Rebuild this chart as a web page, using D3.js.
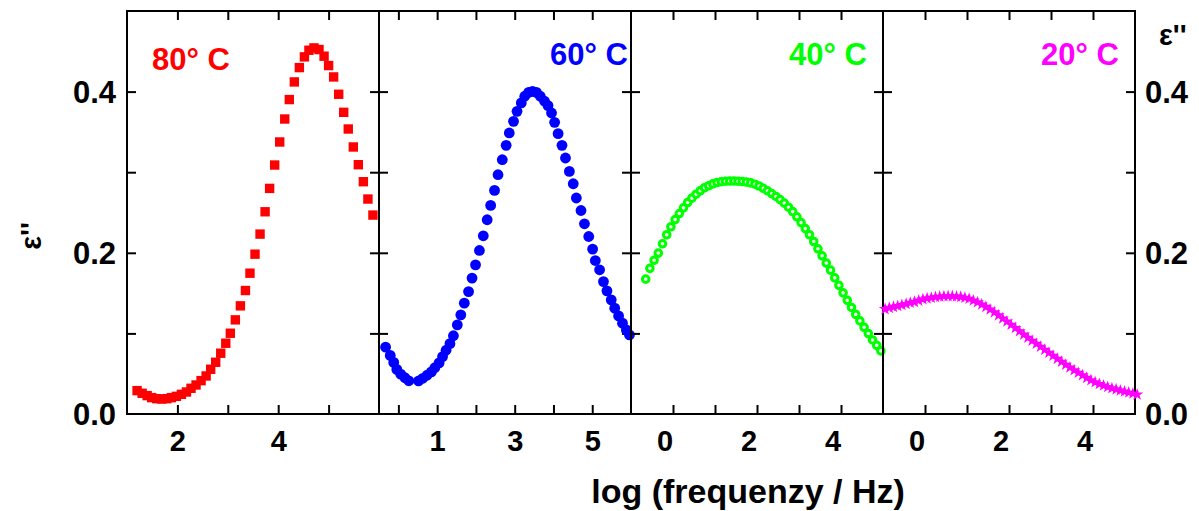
<!DOCTYPE html>
<html>
<head>
<meta charset="utf-8">
<script src="https://cdn.jsdelivr.net/npm/d3@7"></script>
<style>
  html, body { margin: 0; padding: 0; background: #fff; }
  svg { display: block; }
</style>
</head>
<body>
<svg id="chart" width="1199" height="511"></svg>
<script>
// ---------------- data ----------------
const logf80 = [1.20,1.30,1.40,1.49,1.59,1.69,1.79,1.88,1.98,2.08,2.18,2.27,2.37,2.47,2.57,2.66,2.76,2.86,2.96,3.05,3.15,3.25,3.35,3.44,3.54,3.64,3.74,3.83,3.93,4.03,4.13,4.22,4.32,4.42,4.52,4.61,4.71,4.81,4.91,5.00,5.10,5.20,5.30,5.39,5.49,5.59,5.69,5.78,5.88];
const eps80 = [0.0290,0.0257,0.0228,0.0203,0.0190,0.0186,0.0190,0.0203,0.0219,0.0244,0.0273,0.0319,0.0360,0.0414,0.0472,0.0555,0.0642,0.0754,0.0878,0.1002,0.1168,0.1342,0.1532,0.1747,0.1983,0.2232,0.2509,0.2799,0.3089,0.3375,0.3660,0.3901,0.4120,0.4298,0.4431,0.4513,0.4542,0.4522,0.4439,0.4323,0.4182,0.3967,0.3743,0.3536,0.3313,0.3093,0.2882,0.2667,0.2468];

const logf60 = [-0.33,-0.21,-0.12,-0.04,0.06,0.17,0.27,0.52,0.63,0.74,0.85,0.94,1.05,1.14,1.23,1.33,1.42,1.52,1.61,1.70,1.81,1.90,1.99,2.09,2.19,2.29,2.38,2.48,2.57,2.68,2.78,2.86,2.97,3.06,3.17,3.26,3.36,3.46,3.56,3.66,3.77,3.86,3.95,4.03,4.12,4.22,4.31,4.41,4.51,4.59,4.71,4.80,4.91,5.01,5.08,5.19,5.29,5.38,5.49,5.58,5.68,5.78,5.88,5.96];
const eps60 = [0.0829,0.0727,0.0640,0.0553,0.0494,0.0450,0.0412,0.0410,0.0443,0.0481,0.0522,0.0574,0.0634,0.0712,0.0791,0.0873,0.0971,0.1106,0.1230,0.1375,0.1519,0.1686,0.1851,0.2029,0.2211,0.2410,0.2588,0.2774,0.2969,0.3155,0.3333,0.3487,0.3631,0.3755,0.3860,0.3942,0.3991,0.4004,0.3991,0.3942,0.3880,0.3826,0.3735,0.3619,0.3478,0.3333,0.3176,0.3010,0.2857,0.2680,0.2525,0.2360,0.2202,0.2046,0.1904,0.1789,0.1643,0.1528,0.1416,0.1313,0.1217,0.1127,0.1043,0.0981];

const logf40 = [-0.65,-0.55,-0.45,-0.35,-0.25,-0.15,-0.05,0.05,0.15,0.25,0.35,0.45,0.55,0.65,0.75,0.85,0.95,1.05,1.15,1.25,1.35,1.45,1.55,1.65,1.75,1.85,1.95,2.05,2.15,2.25,2.35,2.45,2.55,2.65,2.75,2.85,2.95,3.05,3.15,3.25,3.35,3.45,3.55,3.65,3.75,3.85,3.95,4.05,4.15,4.25,4.35,4.45,4.55,4.65,4.75,4.85,4.95];
const eps40 = [0.1673,0.1807,0.1907,0.1996,0.2112,0.2224,0.2323,0.2412,0.2487,0.2558,0.2624,0.2678,0.2727,0.2770,0.2807,0.2832,0.2855,0.2872,0.2882,0.2888,0.2891,0.2891,0.2888,0.2884,0.2878,0.2867,0.2851,0.2829,0.2800,0.2769,0.2735,0.2699,0.2660,0.2616,0.2566,0.2511,0.2447,0.2375,0.2300,0.2224,0.2140,0.2050,0.1963,0.1872,0.1785,0.1689,0.1596,0.1503,0.1410,0.1322,0.1236,0.1155,0.1076,0.0998,0.0919,0.0851,0.0783];

const logf20 = [-0.95,-0.85,-0.75,-0.65,-0.55,-0.45,-0.35,-0.25,-0.15,-0.05,0.05,0.15,0.25,0.35,0.45,0.55,0.65,0.75,0.85,0.95,1.05,1.15,1.25,1.35,1.45,1.55,1.65,1.75,1.85,1.95,2.05,2.15,2.25,2.35,2.45,2.55,2.65,2.75,2.85,2.95,3.05,3.15,3.25,3.35,3.45,3.55,3.65,3.75,3.85,3.95,4.05,4.15,4.25,4.35,4.45,4.55,4.65,4.75,4.85,4.95,5.05];
const eps20 = [0.1301,0.1317,0.1329,0.1339,0.1352,0.1366,0.1380,0.1391,0.1407,0.1424,0.1435,0.1443,0.1451,0.1456,0.1461,0.1462,0.1462,0.1458,0.1453,0.1442,0.1429,0.1409,0.1386,0.1359,0.1329,0.1296,0.1261,0.1224,0.1186,0.1148,0.1108,0.1068,0.1027,0.0985,0.0947,0.0909,0.0872,0.0834,0.0796,0.0759,0.0722,0.0684,0.0648,0.0612,0.0576,0.0543,0.0512,0.0480,0.0448,0.0420,0.0395,0.0373,0.0353,0.0335,0.0320,0.0306,0.0292,0.0280,0.0267,0.0255,0.0242];

const panelLabels = ["80° C", "60° C", "40° C", "20° C"];
const panelColors = ["#ff0000", "#0000ff", "#00ff00", "#ff00ff"];
const xDomains = [[1, 6], [-0.5, 6], [-1, 5], [-1, 5]];
const xTicks = [[2, 3, 4, 5], [0, 1, 2, 3, 4, 5], [0, 1, 2, 3, 4], [0, 1, 2, 3, 4]];
const xTickLabels = [[2, 4], [1, 3, 5], [0, 2, 4], [0, 2, 4]];
const yTicks = [0.1, 0.2, 0.3, 0.4];
const yTickLabels = [0.0, 0.2, 0.4];
const xTitle = "log (frequenzy / Hz)";
const yTitle = "ε''";

// ---------------- layout ----------------
(function () {
const FONT = "'Liberation Sans', Arial, Helvetica, sans-serif";
const svg = d3.select("#chart");
svg.append("rect").attr("width", 1199).attr("height", 511).attr("fill", "#fff");

const topY = 11, bottomY = 414;
const panelLeft = [127, 379, 631, 883];
const panelW = 252;
const labelShift = [0, 0, -8.5, -8.5];

const y = d3.scaleLinear().domain([0, 0.5]).range([bottomY, topY]);

const series = [
  { xs: logf80, ys: eps80 },
  { xs: logf60, ys: eps60 },
  { xs: logf40, ys: eps40 },
  { xs: logf20, ys: eps20 }
];

function styleAxis(g) {
  g.select(".domain").remove();
  g.selectAll(".tick line").attr("stroke", "#000").attr("stroke-width", 2);
}

for (let p = 0; p < 4; p++) {
  const x0 = panelLeft[p], x1 = x0 + panelW;
  const x = d3.scaleLinear().domain(xDomains[p]).range([x0, x1]);
  const g = svg.append("g");

  const gb = g.append("g").attr("transform", `translate(0,${bottomY})`)
    .call(d3.axisBottom(x).tickValues(xTicks[p]).tickSize(-9).tickSizeOuter(0)
      .tickFormat(d => xTickLabels[p].includes(d) ? String(d) : ""));
  styleAxis(gb);
  gb.selectAll(".tick text").attr("y", 37).attr("dy", 0).attr("dx", labelShift[p])
    .attr("fill", "#000").style("font-family", FONT).style("font-weight", "bold").style("font-size", "29px");

  const gt = g.append("g").attr("transform", `translate(0,${topY})`)
    .call(d3.axisTop(x).tickValues(xTicks[p]).tickSize(-9).tickSizeOuter(0).tickFormat(""));
  styleAxis(gt);

  const gl = g.append("g").attr("transform", `translate(${x0},0)`)
    .call(d3.axisLeft(y).tickValues(p === 0 ? [0, ...yTicks] : yTicks).tickSize(-9).tickSizeOuter(0)
      .tickFormat(d => (p === 0 && yTickLabels.includes(d)) ? d3.format(".1f")(d) : ""));
  styleAxis(gl);
  gl.selectAll(".tick text").attr("x", -11).attr("dy", "0.35em")
    .attr("fill", "#000").style("font-family", FONT).style("font-weight", "bold").style("font-size", "31px");
  if (p === 0) gl.selectAll(".tick").filter(d => d === 0).select("line").remove();

  const gr = g.append("g").attr("transform", `translate(${x1},0)`)
    .call(d3.axisRight(y).tickValues(p === 3 ? [0, ...yTicks] : yTicks).tickSize(-9).tickSizeOuter(0)
      .tickFormat(d => (p === 3 && yTickLabels.includes(d)) ? d3.format(".1f")(d) : ""));
  styleAxis(gr);
  gr.selectAll(".tick text").attr("x", 10).attr("dy", "0.35em")
    .attr("fill", "#000").style("font-family", FONT).style("font-weight", "bold").style("font-size", "31px");
  if (p === 3) gr.selectAll(".tick").filter(d => d === 0).select("line").remove();

  g.append("rect").attr("x", x0).attr("y", topY).attr("width", panelW).attr("height", bottomY - topY)
    .attr("fill", "none").attr("stroke", "#000").attr("stroke-width", 2);

  const s = series[p];
  const pts = s.xs.map((v, i) => [v, s.ys[i]]);
  const col = panelColors[p];
  const mg = g.append("g");
  if (p === 0) {
    mg.selectAll("rect").data(pts).join("rect")
      .attr("x", d => x(d[0]) - 4.7).attr("y", d => y(d[1]) - 4.7)
      .attr("width", 9.4).attr("height", 9.4).attr("fill", col);
  } else if (p === 1) {
    mg.selectAll("circle").data(pts).join("circle")
      .attr("cx", d => x(d[0])).attr("cy", d => y(d[1])).attr("r", 5.4).attr("fill", col);
  } else if (p === 2) {
    mg.selectAll("circle").data(pts).join("circle")
      .attr("cx", d => x(d[0])).attr("cy", d => y(d[1])).attr("r", 3.3)
      .attr("fill", "#f0fff0").attr("stroke", col).attr("stroke-width", 3);
  } else {
    const star = d3.symbol().type(d3.symbolStar).size(48);
    mg.selectAll("path").data(pts).join("path")
      .attr("transform", d => `translate(${x(d[0])},${y(d[1])})`)
      .attr("d", star).attr("fill", col);
  }

  const lab = g.append("text").text(panelLabels[p])
    .attr("fill", col).style("font-family", FONT).style("font-weight", "bold").style("font-size", "31px");
  if (p === 0) lab.attr("x", 152).attr("y", 70).attr("text-anchor", "start");
  else lab.attr("x", [0, 628, 867, 1119][p]).attr("y", 65).attr("text-anchor", "end");
}

svg.append("text").text(xTitle)
  .attr("x", 748).attr("y", 503).attr("text-anchor", "middle")
  .style("font-family", FONT).style("font-weight", "bold").style("font-size", "34px");

svg.append("text").text(yTitle)
  .attr("transform", "translate(41,236) rotate(-90)").attr("text-anchor", "middle")
  .style("font-family", FONT).style("font-weight", "bold").style("font-size", "29px");

svg.append("text").text(yTitle)
  .attr("x", 1159).attr("y", 45).attr("text-anchor", "start")
  .style("font-family", FONT).style("font-weight", "bold").style("font-size", "29px");
})();
</script>
</body>
</html>
